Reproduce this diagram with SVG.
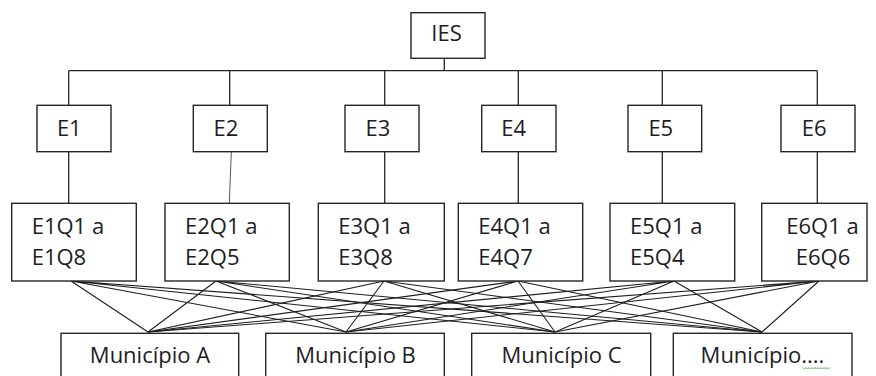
<svg xmlns="http://www.w3.org/2000/svg" width="876" height="376" viewBox="0 0 876 376">
<style>
.box{fill:#fff;stroke:#262626;stroke-width:1.4}
.ln{stroke:#262626;stroke-width:1.3;fill:none}
.x{stroke:#1e1e1e;stroke-width:1.1;fill:none}
text{font-family:"Open Sans","Liberation Sans",sans-serif;font-size:22px;fill:#1c1c24}
.c{text-anchor:middle}
</style>
<rect width="876" height="376" fill="#fff"/>
<g id="connectors">
<path class="ln" d="M444.3 58.3V70.7M68.7 70.7H817.3"/>
<path class="ln" d="M68.7 70.7V105.3M229.7 70.7V105.3M384.7 70.7V105.3M518.3 70.7V105.3M662.3 70.7V105.3M817.3 70.7V105.3"/>
<path class="ln" d="M68.7 151.7V203.3M384.7 151.7V203.3M518.3 151.7V203.3M662.3 151.7V203.3M817.3 151.7V203.3"/>
<path d="M231.3 151.7L229.3 203.3" stroke="#555" stroke-width="1" fill="none"/>
<g class="x">
<path d="M71 281L148 332M71 281L346 332M71 281L555 332M71 281L762 332"/>
<path d="M216 281L148 332M216 281L346 332M216 281L555 332M216 281L762 332"/>
<path d="M384 281L148 332M384 281L346 332M384 281L555 332M384 281L762 332"/>
<path d="M518 281L148 332M518 281L346 332M518 281L555 332M518 281L762 332"/>
<path d="M674 281L148 332M674 281L346 332M674 281L555 332M674 281L762 332"/>
<path d="M819 281L148 332M819 281L346 332M819 281L555 332M819 281L762 332"/>
</g>
</g>
<g id="IES"><rect class="box" x="411" y="12.7" width="74" height="45.6"/><text class="c" x="446.5" y="40.7">IES</text></g>
<g id="E1"><rect class="box" x="37" y="105.3" width="74" height="46.4"/><text class="c" x="69.3" y="136">E1</text></g>
<g id="E2"><rect class="box" x="193.3" y="105.3" width="74" height="46.4"/><text class="c" x="226" y="136">E2</text></g>
<g id="E3"><rect class="box" x="345" y="105.3" width="74" height="46.4"/><text class="c" x="378" y="136">E3</text></g>
<g id="E4"><rect class="box" x="481.7" y="105.3" width="74.3" height="46.4"/><text class="c" x="513.7" y="136">E4</text></g>
<g id="E5"><rect class="box" x="628" y="105.3" width="73.7" height="46.4"/><text class="c" x="660.8" y="136">E5</text></g>
<g id="E6"><rect class="box" x="781" y="105.3" width="74" height="46.4"/><text class="c" x="814.2" y="136">E6</text></g>
<g id="E1Q"><rect class="box" x="11.7" y="203.3" width="124.6" height="77.7"/><text x="31.7" y="234.3">E1Q1 a</text><text x="31.7" y="265">E1Q8</text></g>
<g id="E2Q"><rect class="box" x="165" y="203.3" width="124.3" height="77.7"/><text x="185" y="234.3">E2Q1 a</text><text x="185" y="265">E2Q5</text></g>
<g id="E3Q"><rect class="box" x="318.3" y="203.3" width="126" height="77.7"/><text x="338.3" y="234.3">E3Q1 a</text><text x="338.3" y="265">E3Q8</text></g>
<g id="E4Q"><rect class="box" x="458.3" y="203.3" width="124.4" height="77.7"/><text x="478.3" y="234.3">E4Q1 a</text><text x="478.3" y="265">E4Q7</text></g>
<g id="E5Q"><rect class="box" x="610" y="203.3" width="124.7" height="77.7"/><text x="630" y="234.3">E5Q1 a</text><text x="630" y="265">E5Q4</text></g>
<g id="E6Q"><rect class="box" x="761.7" y="203.3" width="105.3" height="77.7"/><text class="c" x="822.5" y="234.3">E6Q1 a</text><text class="c" x="823" y="265">E6Q6</text></g>
<g id="MA"><rect class="box" x="61" y="333.3" width="177.7" height="60"/><text class="c" x="150" y="362.7">Município A</text></g>
<g id="MB"><rect class="box" x="265.7" y="333.3" width="178.6" height="60"/><text class="c" x="355.5" y="362.7">Município B</text></g>
<g id="MC"><rect class="box" x="471.7" y="333.3" width="179" height="60"/><text class="c" x="561.5" y="362.7">Município C</text></g>
<g id="MD"><rect class="box" x="673.3" y="333.3" width="178.7" height="60"/><text class="c" x="762.5" y="362.7">Município....</text>
<path d="M803 367.5l1.5 1.5 1.5-1.5 1.5 1.5 1.5-1.5 1.5 1.5 1.5-1.5 1.5 1.5 1.5-1.5 1.5 1.5 1.5-1.5 1.5 1.5 1.5-1.5 1.5 1.5 1.5-1.5 1.5 1.5 1.5-1.5 1.5 1.5 1.5-1.5" stroke="#3cb043" stroke-width="0.9" fill="none"/></g>
</svg>
